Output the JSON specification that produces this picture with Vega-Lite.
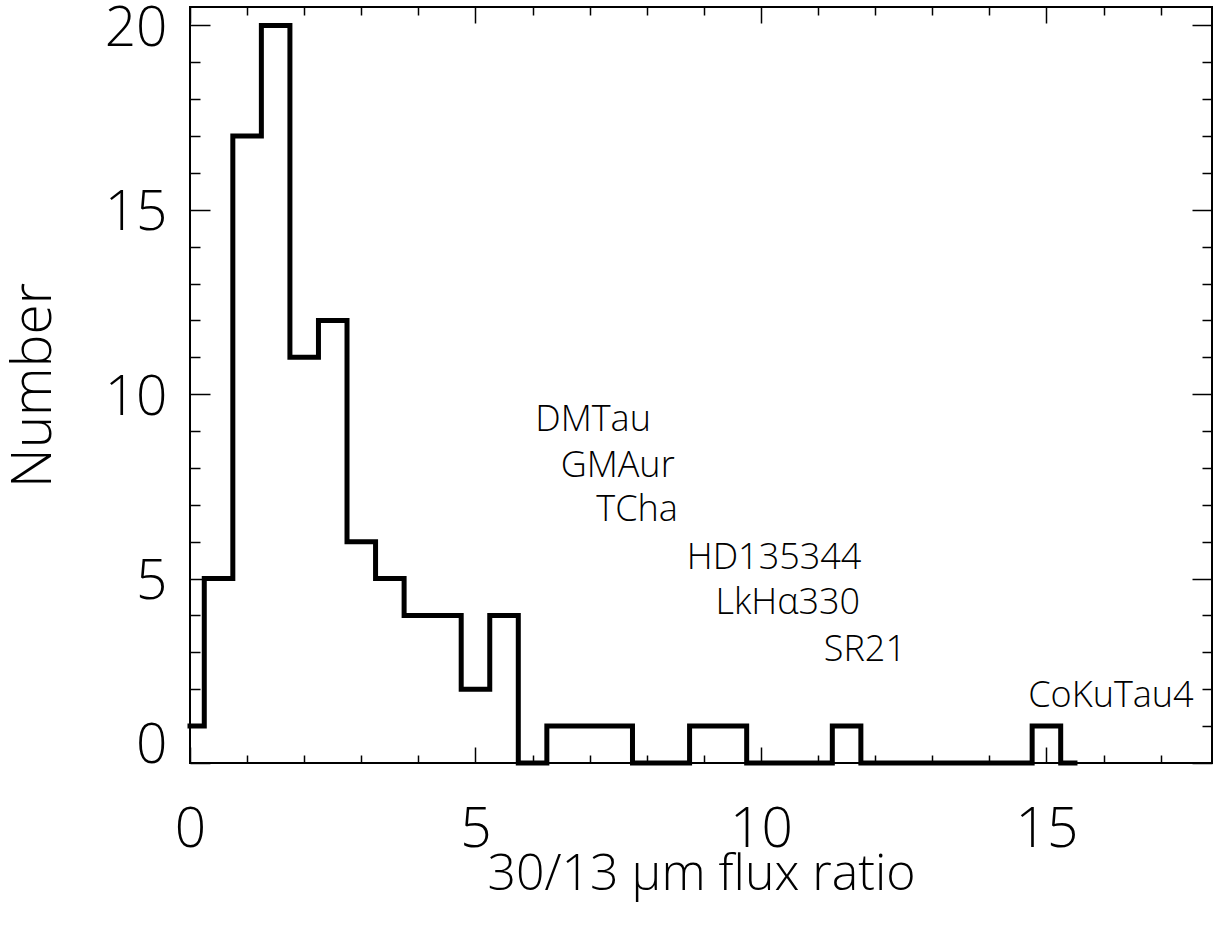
{
  "$schema": "https://vega.github.io/schema/vega-lite/v6.json",
  "width": 1022,
  "height": 756,
  "autosize": {"type": "none"},
  "padding": {"left": 190, "top": 7, "right": 17, "bottom": 167},
  "background": "white",
  "config": {
    "view": {"stroke": "black", "strokeWidth": 2},
    "axis": {
      "domain": false,
      "grid": false,
      "tickColor": "black",
      "tickWidth": 1.5,
      "labelColor": "black",
      "titleColor": "black",
      "labelFont": "Open Sans",
      "titleFont": "Open Sans",
      "labelFontWeight": 300,
      "titleFontWeight": 300
    }
  },
  "datasets": {
    "hist": [
      {"ratio": 0.0, "count": 1}, {"ratio": 0.5, "count": 5}, {"ratio": 1.0, "count": 17}, {"ratio": 1.5, "count": 20},
      {"ratio": 2.0, "count": 11}, {"ratio": 2.5, "count": 12}, {"ratio": 3.0, "count": 6}, {"ratio": 3.5, "count": 5},
      {"ratio": 4.0, "count": 4}, {"ratio": 4.5, "count": 4}, {"ratio": 5.0, "count": 2}, {"ratio": 5.5, "count": 4},
      {"ratio": 6.0, "count": 0}, {"ratio": 6.5, "count": 1}, {"ratio": 7.0, "count": 1}, {"ratio": 7.5, "count": 1},
      {"ratio": 8.0, "count": 0}, {"ratio": 8.5, "count": 0}, {"ratio": 9.0, "count": 1}, {"ratio": 9.5, "count": 1},
      {"ratio": 10.0, "count": 0}, {"ratio": 10.5, "count": 0}, {"ratio": 11.0, "count": 0}, {"ratio": 11.5, "count": 1},
      {"ratio": 12.0, "count": 0}, {"ratio": 12.5, "count": 0}, {"ratio": 13.0, "count": 0}, {"ratio": 13.5, "count": 0},
      {"ratio": 14.0, "count": 0}, {"ratio": 14.5, "count": 0}, {"ratio": 15.0, "count": 1}, {"ratio": 15.5, "count": 0}
    ],
    "labels": [
      {"name": "DMTau", "ratio": 7.06, "count": 9.30},
      {"name": "GMAur", "ratio": 7.49, "count": 8.05},
      {"name": "TCha", "ratio": 7.83, "count": 6.86},
      {"name": "HD135344", "ratio": 10.23, "count": 5.56},
      {"name": "LkHα330", "ratio": 10.47, "count": 4.34},
      {"name": "SR21", "ratio": 11.82, "count": 3.06},
      {"name": "CoKuTau4", "ratio": 16.13, "count": 1.82}
    ]
  },
  "layer": [
    {
      "data": {"name": "hist"},
      "mark": {"type": "line", "interpolate": "step", "color": "black", "strokeWidth": 5, "strokeJoin": "miter", "strokeCap": "square"},
      "encoding": {
        "x": {"field": "ratio", "type": "quantitative",
          "scale": {"domain": [0, 17.9], "nice": false, "zero": false},
          "axis": {"orient": "bottom", "values": [0, 5, 10, 15], "tickSize": -16, "labelPadding": 56, "labelFontSize": 55,
            "labelFlush": false,
            "title": "30/13 μm flux ratio", "titleFontSize": 50, "titlePadding": -8}},
        "y": {"field": "count", "type": "quantitative",
          "scale": {"domain": [0, 20.5], "nice": false, "zero": false},
          "axis": {"orient": "left", "values": [0, 5, 10, 15, 20], "tickSize": -20, "labelPadding": 43, "labelFontSize": 55,
            "labelFlush": true, "labelFlushOffset": 8, "labelOffset": 3,
            "title": "Number", "titleFontSize": 55, "titlePadding": 42}}
      }
    },
    {
      "data": {"name": "labels"},
      "mark": {"type": "text", "font": "Open Sans", "fontWeight": 300, "fontSize": 36, "color": "black", "baseline": "middle", "align": "center"},
      "encoding": {
        "x": {"field": "ratio", "type": "quantitative",
          "scale": {"domain": [0, 17.9], "nice": false, "zero": false},
          "axis": {"orient": "top", "values": [0, 5, 10, 15], "tickSize": -16, "labels": false, "title": null}},
        "y": {"field": "count", "type": "quantitative",
          "scale": {"domain": [0, 20.5], "nice": false, "zero": false},
          "axis": {"orient": "right", "values": [0, 5, 10, 15, 20], "tickSize": -20, "labels": false, "title": null}},
        "text": {"field": "name"}
      }
    },
    {
      "data": {"name": "hist"},
      "mark": {"type": "line", "strokeOpacity": 0},
      "encoding": {
        "x": {"field": "ratio", "type": "quantitative",
          "scale": {"domain": [0, 17.9], "nice": false, "zero": false},
          "axis": {"orient": "bottom", "values": [1, 2, 3, 4, 6, 7, 8, 9, 11, 12, 13, 14, 16, 17], "tickSize": -8, "labels": false, "title": null}},
        "y": {"field": "count", "type": "quantitative",
          "scale": {"domain": [0, 20.5], "nice": false, "zero": false},
          "axis": {"orient": "left", "values": [1, 2, 3, 4, 6, 7, 8, 9, 11, 12, 13, 14, 16, 17, 18, 19], "tickSize": -10, "labels": false, "title": null}}
      }
    },
    {
      "data": {"name": "hist"},
      "mark": {"type": "line", "strokeOpacity": 0},
      "encoding": {
        "x": {"field": "ratio", "type": "quantitative",
          "scale": {"domain": [0, 17.9], "nice": false, "zero": false},
          "axis": {"orient": "top", "values": [1, 2, 3, 4, 6, 7, 8, 9, 11, 12, 13, 14, 16, 17], "tickSize": -8, "labels": false, "title": null}},
        "y": {"field": "count", "type": "quantitative",
          "scale": {"domain": [0, 20.5], "nice": false, "zero": false},
          "axis": {"orient": "right", "values": [1, 2, 3, 4, 6, 7, 8, 9, 11, 12, 13, 14, 16, 17, 18, 19], "tickSize": -10, "labels": false, "title": null}}
      }
    }
  ],
  "resolve": {"axis": {"x": "independent", "y": "independent"}}
}
